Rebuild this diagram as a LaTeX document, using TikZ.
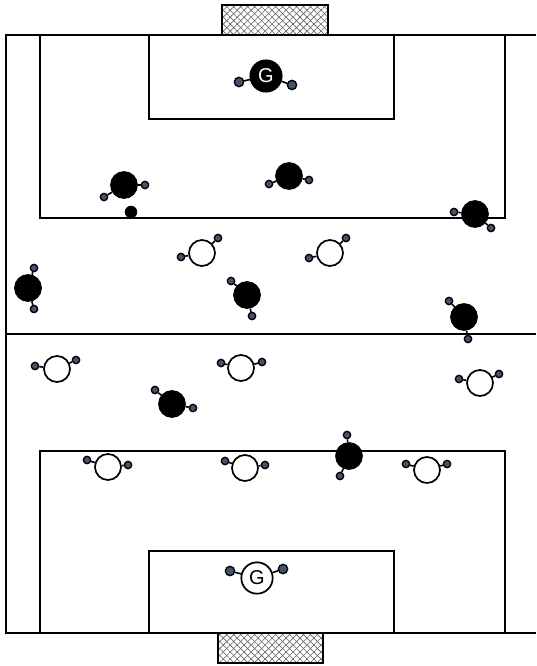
\documentclass[tikz,border=0pt]{standalone}
\usepackage{fontspec}
\setmainfont{Liberation Sans}
\usetikzlibrary{patterns.meta}
\definecolor{handc}{HTML}{44546A}
\tikzset{x=0.75pt,y=-0.75pt,
 fieldline/.style={draw=black,line width=1.4pt},
 goalhatcha/.style={pattern={Lines[angle=45,distance=3.7pt,line width=0.45pt]},pattern color=black!60},
 goalhatchb/.style={pattern={Lines[angle=-45,distance=3.7pt,line width=0.45pt]},pattern color=black!60},
 goalframe/.style={draw=black,line width=1.4pt},
 body/.style={circle,draw=black,line width=1.3pt,minimum size=19.5pt,inner sep=0pt,text=white,font=\fontsize{15}{15}\selectfont},
 blackp/.style={body,fill=black},
 whitep/.style={body,fill=white,text=black},
 keeper/.style={minimum size=23.5pt},
 hand/.style={circle,draw=black,line width=1pt,fill=handc,minimum size=5.5pt,inner sep=0pt},
 bighand/.style={hand,minimum size=7pt},
 arm/.style={draw=black,line width=1.2pt},
 ball/.style={circle,fill=black,draw=black,minimum size=9pt,inner sep=0pt}}
\newcommand{\plyr}[9]{%
 \node[#2] (#1) at (#3,#4) {#9};
 \node[hand] (#1a) at (#5,#6) {};
 \node[hand] (#1b) at (#7,#8) {};
 \draw[arm] (#1) -- (#1a);
 \draw[arm] (#1) -- (#1b);}
\begin{document}
\begin{tikzpicture}
\useasboundingbox (0,0) rectangle (536,666);
\fill[white] (0,0) rectangle (536,666);
\draw[fieldline] (536,35) -- (6,35) -- (6,633) -- (536,633);
\draw[fieldline] (6,334) -- (536,334);
\draw[fieldline] (40,35) -- (40,218) -- (505,218) -- (505,35);
\draw[fieldline] (149,35) -- (149,119) -- (394,119) -- (394,35);
\draw[fieldline] (40,633) -- (40,451) -- (505,451) -- (505,633);
\draw[fieldline] (149,633) -- (149,551) -- (394,551) -- (394,633);
\fill[goalhatcha] (222,5) rectangle (328,35);
\fill[goalhatchb] (222,5) rectangle (328,35);
\draw[goalframe] (222,5) rectangle (328,35);
\fill[goalhatcha] (218,633) rectangle (323,663);
\fill[goalhatchb] (218,633) rectangle (323,663);
\draw[goalframe] (218,633) rectangle (323,663);
\node[blackp,keeper] (ba) at (266,76) {G};
\node[bighand] (baa) at (239,82) {};
\node[bighand] (bab) at (292,85) {};
\draw[arm] (ba) -- (baa);
\draw[arm] (ba) -- (bab);
\plyr{bb}{blackp}{124}{185}{104}{197}{145}{185}{}
\plyr{bc}{blackp}{289}{176}{269}{184}{309}{180}{}
\plyr{bd}{blackp}{475}{214}{454}{212}{491}{228}{}
\plyr{be}{blackp}{28}{288}{34}{268}{34}{309}{}
\plyr{bf}{blackp}{247}{295}{231}{281}{252}{316}{}
\plyr{bg}{blackp}{464}{317}{449}{301}{468}{339}{}
\plyr{bh}{blackp}{172}{404}{155}{390}{193}{408}{}
\plyr{bi}{blackp}{349}{456}{347}{435}{340}{476}{}
\node[ball] (matchball) at (131,212) {};
\plyr{wa}{whitep}{202}{253}{181}{257}{218}{238}{}
\plyr{wb}{whitep}{330}{253}{309}{258}{346}{238}{}
\plyr{wc}{whitep}{57}{369}{35}{366}{76}{360}{}
\plyr{wd}{whitep}{241}{368}{221}{363}{262}{362}{}
\plyr{we}{whitep}{480}{383}{459}{379}{499}{374}{}
\plyr{wf}{whitep}{108}{467}{87}{460}{128}{465}{}
\plyr{wg}{whitep}{245}{468}{225}{461}{265}{465}{}
\plyr{wh}{whitep}{427}{470}{406}{464}{447}{464}{}
\node[whitep,keeper] (wk) at (257,578) {G};
\node[bighand] (wka) at (230,571) {};
\node[bighand] (wkb) at (283,569) {};
\draw[arm] (wk) -- (wka);
\draw[arm] (wk) -- (wkb);
\end{tikzpicture}
\end{document}
